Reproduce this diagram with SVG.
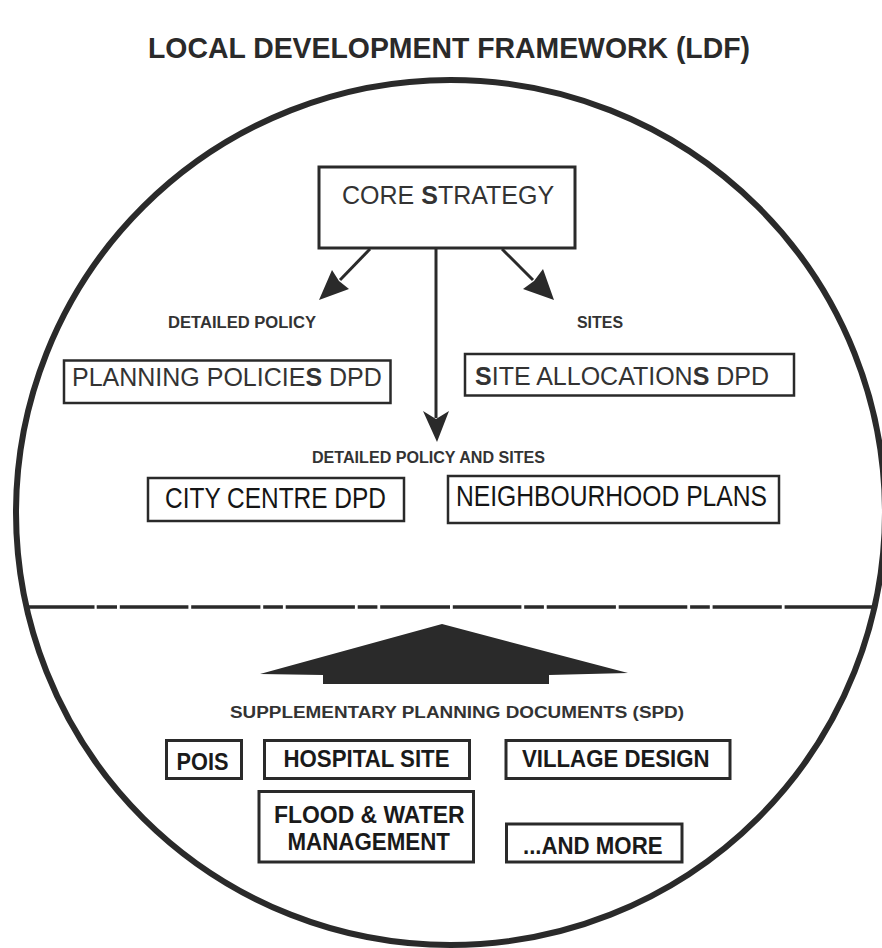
<svg xmlns="http://www.w3.org/2000/svg" width="882" height="948" viewBox="0 0 882 948">
<style>
.bg{fill:#ffffff}
.ring{fill:none;stroke:#2a2a2a;stroke-width:6}
.box{fill:#ffffff;stroke:#2a2a2a;stroke-width:2.5}
.box3{fill:#ffffff;stroke:#2a2a2a;stroke-width:3}
.line{fill:none;stroke:#2a2a2a;stroke-width:3}
.dash{fill:none;stroke:#2a2a2a;stroke-width:3.5}
.head{fill:#2a2a2a}
.title{font-family:"Liberation Sans",Arial,sans-serif;font-weight:bold;font-size:30px;fill:#2a2a2a}
.big{font-family:"Liberation Sans",Arial,sans-serif;font-size:25px;fill:#333333}
.narrow{font-family:"Liberation Sans",Arial,sans-serif;font-size:29px;fill:#151515}
.small{font-family:"Liberation Sans",Arial,sans-serif;font-weight:bold;font-size:16px;fill:#333333}
.spd{font-family:"Liberation Sans",Arial,sans-serif;font-weight:bold;font-size:24px;fill:#1a1a1a}
.b{font-weight:bold}
</style>
<rect class="bg" x="0" y="0" width="882" height="948"/>
<text class="title" x="148" y="58" textLength="602" lengthAdjust="spacingAndGlyphs">LOCAL DEVELOPMENT FRAMEWORK (LDF)</text>
<ellipse class="ring" cx="450.5" cy="512.5" rx="434.5" ry="432.5"/>
<g id="connectors">
<line class="line" x1="370" y1="249" x2="340" y2="280"/>
<polygon class="head" points="319,300 349,289 339,281 332,270"/>
<line class="line" x1="502" y1="249" x2="533" y2="280"/>
<polygon class="head" points="554,300 523,289 534,281 543,269"/>
<line class="line" x1="436" y1="249" x2="436" y2="418"/>
<polygon class="head" points="423,411 436,419 449,411 437,442"/>
<path class="dash" d="M28 607H94.5M96.7 607H117M119.8 607H188.4M191.2 607H260.4M263.2 607H282.9M285.7 607H354.9M357.7 607H377.4M380.2 607H450M452.8 607H521.4M524.2 607H543.9M546.7 607H615.9M618.7 607H687.3M690.1 607H709.8M712.6 607H781.8M784.6 607H874"/>
<polygon class="head" points="260,674 442,624 628,673 549,675 549,684 323,684 323,675"/>
</g>
<g id="core-strategy">
<rect class="box3" x="319" y="167" width="256" height="81"/>
<text class="big" x="342" y="204" font-size="24.3">CORE <tspan class="b">S</tspan>TRATEGY</text>
</g>
<g id="label-detailed-policy">
<text class="small" x="168" y="328" textLength="148" lengthAdjust="spacingAndGlyphs">DETAILED POLICY</text>
</g>
<g id="label-sites">
<text class="small" x="577" y="328" textLength="46" lengthAdjust="spacingAndGlyphs">SITES</text>
</g>
<g id="planning-policies">
<rect class="box" x="64" y="360.5" width="326.5" height="42.5"/>
<text class="big" x="72" y="386">PLANNING POLICIE<tspan class="b">S</tspan> DPD</text>
</g>
<g id="site-allocations">
<rect class="box" x="465" y="354" width="329" height="41.5"/>
<text class="big" x="475" y="385"><tspan class="b">S</tspan>ITE ALLOCATION<tspan class="b">S</tspan> DPD</text>
</g>
<g id="label-detailed-policy-and-sites">
<text class="small" x="312" y="463" font-size="15" textLength="233" lengthAdjust="spacingAndGlyphs">DETAILED POLICY AND SITES</text>
</g>
<g id="city-centre">
<rect class="box" x="148" y="478" width="256" height="43"/>
<text class="narrow" x="165" y="508" textLength="221" lengthAdjust="spacingAndGlyphs">CITY CENTRE DPD</text>
</g>
<g id="neighbourhood-plans">
<rect class="box" x="448" y="476" width="331" height="47"/>
<text class="narrow" x="456" y="506" textLength="311" lengthAdjust="spacingAndGlyphs">NEIGHBOURHOOD PLANS</text>
</g>
<g id="label-spd">
<text class="small" x="230" y="718" font-size="17" textLength="454" lengthAdjust="spacingAndGlyphs">SUPPLEMENTARY PLANNING DOCUMENTS (SPD)</text>
</g>
<g id="pois">
<rect class="box3" x="166.5" y="740.5" width="75" height="38"/>
<text class="spd" x="176.5" y="770" textLength="52" lengthAdjust="spacingAndGlyphs">POIS</text>
</g>
<g id="hospital-site">
<rect class="box3" x="264.5" y="740.5" width="205" height="38"/>
<text class="spd" x="283.5" y="767" textLength="166" lengthAdjust="spacingAndGlyphs">HOSPITAL SITE</text>
</g>
<g id="village-design">
<rect class="box3" x="506" y="740.5" width="224" height="38"/>
<text class="spd" x="522" y="767" textLength="187.5" lengthAdjust="spacingAndGlyphs">VILLAGE DESIGN</text>
</g>
<g id="flood-water">
<rect class="box3" x="259" y="791.5" width="214.5" height="70.5"/>
<text class="spd" x="274" y="822.5" textLength="190.5" lengthAdjust="spacingAndGlyphs">FLOOD &amp; WATER</text>
<text class="spd" x="287.5" y="849.5" textLength="162.5" lengthAdjust="spacingAndGlyphs">MANAGEMENT</text>
</g>
<g id="and-more">
<rect class="box3" x="506.5" y="824" width="175.5" height="38"/>
<text class="spd" x="523" y="853.5" textLength="139.5" lengthAdjust="spacingAndGlyphs">...AND MORE</text>
</g>
</svg>
